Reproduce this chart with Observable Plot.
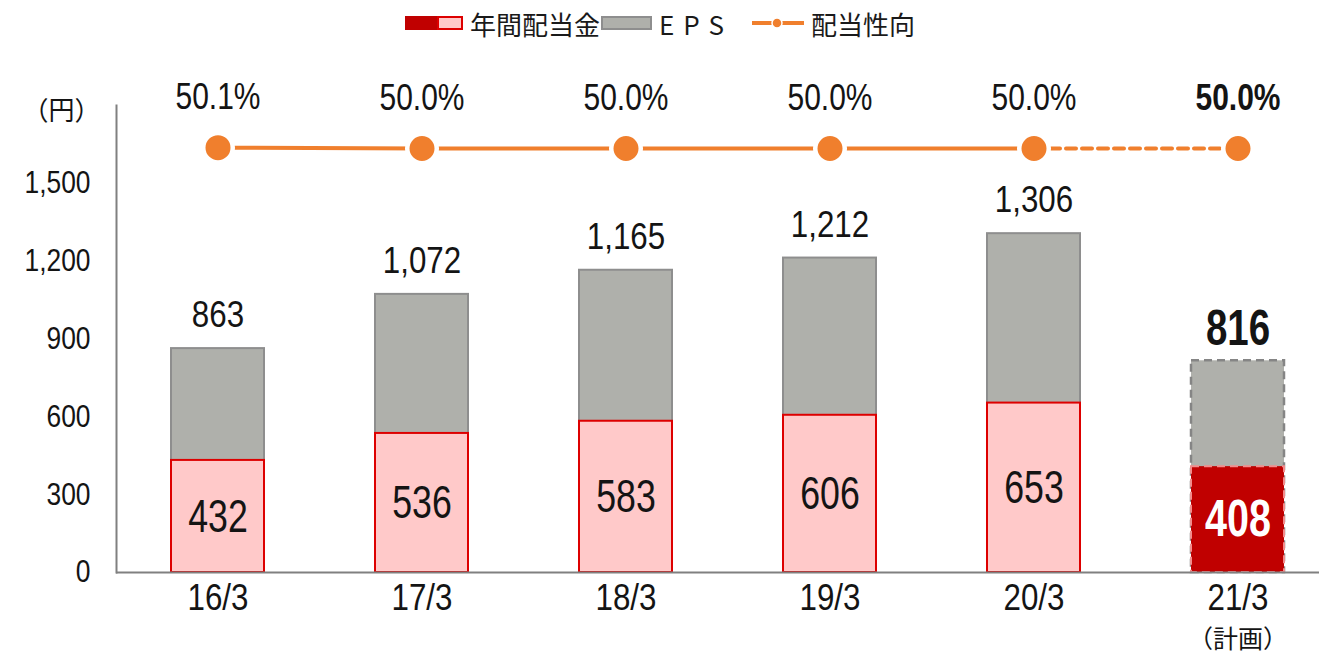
<!DOCTYPE html>
<html>
<head>
<meta charset="utf-8">
<script src="https://cdn.jsdelivr.net/npm/d3@7"></script>
<script src="https://cdn.jsdelivr.net/npm/@observablehq/plot@0.6"></script>
<style>
  body { margin: 0; background: #fff; }
  #chart { position: relative; width: 1319px; height: 655px; overflow: hidden; }
  #chart svg { position: absolute; left: 0; top: 0; }
  .legend-item { position: absolute; top: 5px; height: 36px; display: flex; align-items: center;
    font-family: "Noto Sans CJK JP", sans-serif; font-size: 26px; color: #1a1a1a; }
  .legend-item svg { position: static !important; margin-right: 7px; }
</style>
</head>
<body>
<div id="chart"></div>
<script>
// Fiscal periods (year/month of fiscal year end)
const periods = ["16/3", "17/3", "18/3", "19/3", "20/3", "21/3"];
// Earnings per share (円)
const eps = [863, 1072, 1165, 1212, 1306, 816];
// Annual dividend per share (円)
const dividend = [432, 536, 583, 606, 653, 408];
// Payout ratio (%)
const payoutRatio = [50.1, 50.0, 50.0, 50.0, 50.0, 50.0];
// Whether the period is a plan (forecast)
const planned = [false, false, false, false, false, true];
// Left axis ticks
const yTicks = [0, 300, 600, 900, 1200, 1500];

const data = periods.map((period, i) => ({
  period, eps: eps[i], dividend: dividend[i], ratio: payoutRatio[i], planned: planned[i]
}));
const actual = data.filter(d => !d.planned);
const plan = data.filter(d => d.planned);
const lastTwo = data.slice(-2);

const numFont = '"Liberation Sans", Arial, sans-serif';
const cjkFont = '"Noto Sans CJK JP", sans-serif';
const fmt = d3.format(",");
const orange = "#F07F2D";
const ink = "#141414";

const frame = {
  width: 1319, height: 655,
  marginLeft: 116, marginRight: -19, marginTop: 105, marginBottom: 83
};
const xScale = { type: "band", domain: periods, paddingInner: 0.545, paddingOuter: 0.264, axis: null };

// Bars: EPS behind, dividend in front
const barChart = Plot.plot({
  ...frame,
  style: { fontFamily: numFont, background: "transparent", color: ink },
  x: xScale,
  y: { domain: [0, 1800], axis: null },
  marks: [
    Plot.barY(actual, { x: "period", y1: 0, y2: "eps", fill: "#AFB0AB", stroke: "#8E8E8E", strokeWidth: 2 }),
    Plot.barY(plan, { x: "period", y1: 0, y2: "eps", fill: "#AFB0AB", stroke: "#858585", strokeWidth: 2.5, strokeDasharray: "8,5" }),
    Plot.barY(actual, { x: "period", y1: 0, y2: "dividend", fill: "#FFC9C9", stroke: "#DD0000", strokeWidth: 2 }),
    Plot.barY(plan, { x: "period", y1: 0, y2: "dividend", fill: "#C00000", stroke: "#F28C8C", strokeWidth: 2, strokeDasharray: "8,5" }),
    Plot.text(actual, { x: "period", y: "eps", text: d => fmt(d.eps), dy: -33, fontSize: 36, fill: ink }),
    Plot.text(plan, { x: "period", y: "eps", text: d => fmt(d.eps), dy: -32, fontSize: 50, fontWeight: "bold", fill: ink }),
    Plot.text(actual, { x: "period", y: d => d.dividend / 2, text: d => fmt(d.dividend), fontSize: 47, fill: ink }),
    Plot.text(plan, { x: "period", y: d => d.dividend / 2, text: d => fmt(d.dividend), fontSize: 52, fontWeight: "bold", fill: "white" }),
    Plot.ruleY([0], { stroke: "#808080", strokeWidth: 2 }),
    Plot.frame({ anchor: "left", stroke: "#808080", strokeWidth: 2 }),
    Plot.axisY({ ticks: yTicks, tickSize: 0, tickPadding: 26, tickFormat: fmt, fontSize: 31, label: null, fill: ink }),
    Plot.text(data, { x: "period", frameAnchor: "bottom", lineAnchor: "middle", dy: 26, text: "period", fontSize: 36, fill: ink }),
    Plot.text(plan, { x: "period", frameAnchor: "bottom", lineAnchor: "middle", dy: 67, text: () => "（計画）", fontSize: 25, fontFamily: cjkFont, fill: ink }),
    Plot.text(["（円）"], { frameAnchor: "top-left", textAnchor: "middle", lineAnchor: "middle", dx: -55, dy: 6, fontSize: 26, fontFamily: cjkFont, fill: ink })
  ]
});

// Payout ratio on its own scale
const ratioChart = Plot.plot({
  ...frame,
  style: { fontFamily: numFont, background: "transparent", color: ink },
  x: xScale,
  y: { domain: [0, 55.07], axis: null },
  marks: [
    Plot.line(actual, { x: "period", y: "ratio", stroke: orange, strokeWidth: 4 }),
    Plot.line(lastTwo, { x: "period", y: "ratio", stroke: orange, strokeWidth: 4, strokeDasharray: "10,6" }),
    Plot.dot(data, { x: "period", y: "ratio", r: 14.75, fill: orange, stroke: "white", strokeWidth: 4.5 }),
    Plot.text(actual, { x: "period", y: "ratio", text: d => d.ratio.toFixed(1) + "%", dy: -50, fontSize: 37, fill: ink }),
    Plot.text(plan, { x: "period", y: "ratio", text: d => d.ratio.toFixed(1) + "%", dy: -50, fontSize: 37, fontWeight: "bold", fill: ink })
  ]
});

const chart = document.getElementById("chart");
chart.append(barChart, ratioChart);

// Narrow the numeric labels to a condensed face (width factor by font size)
const squeeze = { 31: 0.85, 36: 0.87, 37: 0.81, 47: 0.76, 50: 0.77, 52: 0.76 };
for (const svg of [barChart, ratioChart]) {
  svg.querySelectorAll("text").forEach(t => {
    if (/[\u3000-\u9fff\uff00-\uffef]/.test(t.textContent)) return;
    const size = Math.round(parseFloat(getComputedStyle(t).fontSize));
    const k = squeeze[size] ?? 0.85;
    const w = t.getComputedTextLength();
    t.setAttribute("textLength", (w * k).toFixed(1));
    t.setAttribute("lengthAdjust", "spacingAndGlyphs");
  });
}

// Legend
const legendItems = [
  { left: 405, label: "年間配当金", swatch: `<svg width="58" height="16"><rect x="0" y="1" width="33" height="14" fill="#C00000"/><rect x="33" y="2" width="24" height="12" fill="#FFC9C9" stroke="#DD0000" stroke-width="2"/></svg>` },
  { left: 601, label: "EPS", spacing: "9px", swatch: `<svg width="51" height="16"><rect x="1" y="2" width="49" height="12" fill="#AFB0AB" stroke="#8E8E8E" stroke-width="2"/></svg>` },
  { left: 752, label: "配当性向", swatch: `<svg width="52" height="16"><line x1="0" y1="8" x2="52" y2="8" stroke="${orange}" stroke-width="4"/><circle cx="25" cy="8" r="5" fill="${orange}" stroke="white" stroke-width="1.5"/></svg>` }
];
for (const item of legendItems) {
  const el = document.createElement("div");
  el.className = "legend-item";
  el.style.left = item.left + "px";
  el.innerHTML = item.swatch + `<span style="letter-spacing:${item.spacing || 0}">${item.label}</span>`;
  chart.append(el);
}
</script>
</body>
</html>
